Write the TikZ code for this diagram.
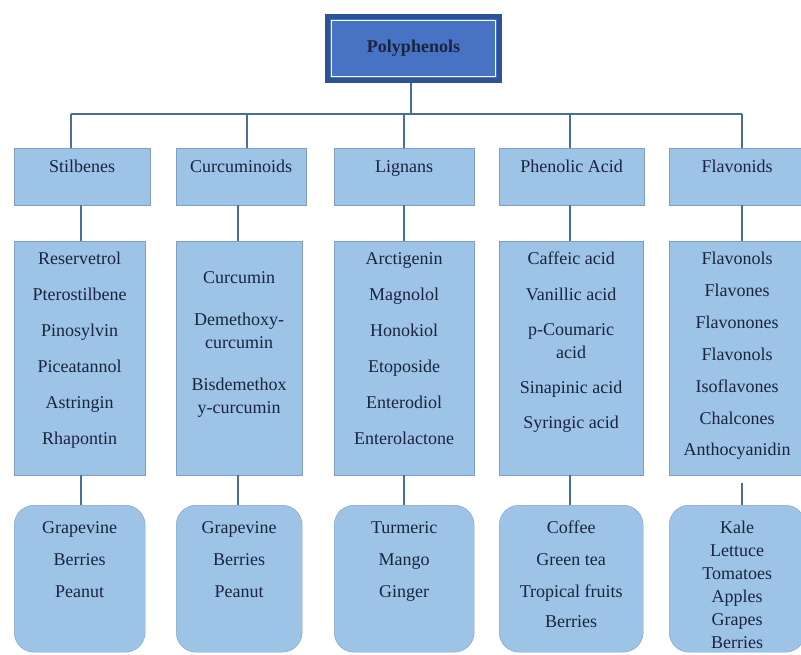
\documentclass[tikz,border=0pt]{standalone}
\usepackage{fontspec}
\setmainfont{Liberation Serif}
\usetikzlibrary{positioning}
\definecolor{boxfill}{RGB}{157,195,230}
\definecolor{boxline}{RGB}{128,158,192}
\definecolor{linkcol}{RGB}{70,112,155}
\definecolor{topfill}{RGB}{72,114,196}
\definecolor{topline}{RGB}{47,82,150}
\definecolor{inkcol}{RGB}{26,36,64}
\tikzset{
	topbox/.style={draw=topline, fill=topfill, line width=5pt, minimum width=172pt, minimum height=64pt},
	cat/.style={draw=boxline, fill=boxfill, anchor=north west, inner sep=0pt, text height=24pt, text depth=33pt},
	midbox/.style={draw=boxline, fill=boxfill, anchor=north west, minimum height=234pt},
	srcbox/.style={draw=boxline, fill=boxfill, anchor=north west, rounded corners=20pt, minimum height=147pt},
	list/.style={align=center, inner sep=0pt},
	link/.style={draw=linkcol, line width=1.6pt}
}

\begin{document}
\begin{tikzpicture}[x=1pt, y=-1pt, font=\fontsize{18}{22}\selectfont, text=inkcol]
	\useasboundingbox (0,0) rectangle (801,655);
	%\draw [help lines, step=50] (0,0) grid (801,655);

	% root
	\node[topbox] (poly) at (413.5,48.5) {\textbf{Polyphenols}};
	\draw[white, line width=1.2pt] ([shift={(6.5pt,-6.5pt)}]poly.north west) rectangle ([shift={(-6.5pt,6.5pt)}]poly.south east);

	% classes
	\node[cat, minimum width=136pt] (cat1) at (14,148) {Stilbenes};
	\node[cat, minimum width=130pt] (cat2) at (176,148) {Curcuminoids};
	\node[cat, minimum width=140pt] (cat3) at (334,148) {Lignans};
	\node[cat, minimum width=145pt] (cat4) at (499,148) {Phenolic Acid};
	\node[cat, minimum width=136pt] (cat5) at (669,148) {Flavonids};

	% compounds
	\node[midbox, minimum width=131pt] (mid1) at (14,241) {};
	\node[midbox, minimum width=126pt] (mid2) at (176,241) {};
	\node[midbox, minimum width=140pt] (mid3) at (334,241) {};
	\node[midbox, minimum width=144pt] (mid4) at (499,241) {};
	\node[midbox, minimum width=136pt] (mid5) at (669,241) {};

	\node[list, below=11pt of mid1.north] (cmp1) {Reservetrol\\[14pt] Pterostilbene\\[14pt] Pinosylvin\\[14pt] Piceatannol\\[14pt] Astringin\\[14pt] Rhapontin};
	\node[list, below=30pt of mid2.north] (cmp2) {Curcumin\\[20pt] Demethoxy-\\[1pt] curcumin\\[20pt] Bisdemethox\\[1pt] y-curcumin};
	\node[list, below=11pt of mid3.north] (cmp3) {Arctigenin\\[14pt] Magnolol\\[14pt] Honokiol\\[14pt] Etoposide\\[14pt] Enterodiol\\[14pt] Enterolactone};
	\node[list, below=11pt of mid4.north] (cmp4) {Caffeic acid\\[14pt] Vanillic acid\\[13pt] p-Coumaric\\[1pt] acid\\[13pt] Sinapinic acid\\[13pt] Syringic acid};
	\node[list, below=11pt of mid5.north] (cmp5) {Flavonols\\[10pt] Flavones\\[10pt] Flavonones\\[10pt] Flavonols\\[10pt] Isoflavones\\[10pt] Chalcones\\[9pt] Anthocyanidin};

	% sources
	\node[srcbox, minimum width=131pt] (src1) at (14,505) {};
	\node[srcbox, minimum width=126pt] (src2) at (176,505) {};
	\node[srcbox, minimum width=140pt] (src3) at (334,505) {};
	\node[srcbox, minimum width=144pt] (src4) at (499,505) {};
	\node[srcbox, minimum width=136pt] (src5) at (669,505) {};

	\node[list, below=16pt of src1.north] (food1) {Grapevine\\[10pt] Berries\\[10pt] Peanut};
	\node[list, below=16pt of src2.north] (food2) {Grapevine\\[10pt] Berries\\[10pt] Peanut};
	\node[list, below=16pt of src3.north] (food3) {Turmeric\\[10pt] Mango\\[10pt] Ginger};
	\node[list, below=16pt of src4.north] (food4) {Coffee\\[10pt] Green tea\\[10pt] Tropical fruits\\[8pt] Berries};
	\node[list, below=16pt of src5.north] (food5) {Kale\\[1pt] Lettuce\\[1pt] Tomatoes\\[1pt] Apples\\[1pt] Grapes\\[1pt] Berries};

	% connectors
	\coordinate (bus) at (411,114);
	\draw[link] (poly.south -| bus) -- (bus);
	\foreach \c/\tx/\lx in {1/71/81, 2/247/238, 3/404/404, 4/570/570, 5/742/742} {
		\coordinate (t\c) at (\tx,114);
		\coordinate (d\c) at (\lx,0);
		\draw[link] (t\c) -- (cat\c.north -| t\c);
		\draw[link] (cat\c.south -| d\c) -- (mid\c.north -| d\c);
	}
	\foreach \c in {1,...,4}
		\draw[link] (mid\c.south -| d\c) -- (src\c.north -| d\c);
	\draw[link, shorten <=8pt] (mid5.south -| d5) -- (src5.north -| d5);
	\draw[link] (t1) -- (t5);
\end{tikzpicture}
\end{document}
